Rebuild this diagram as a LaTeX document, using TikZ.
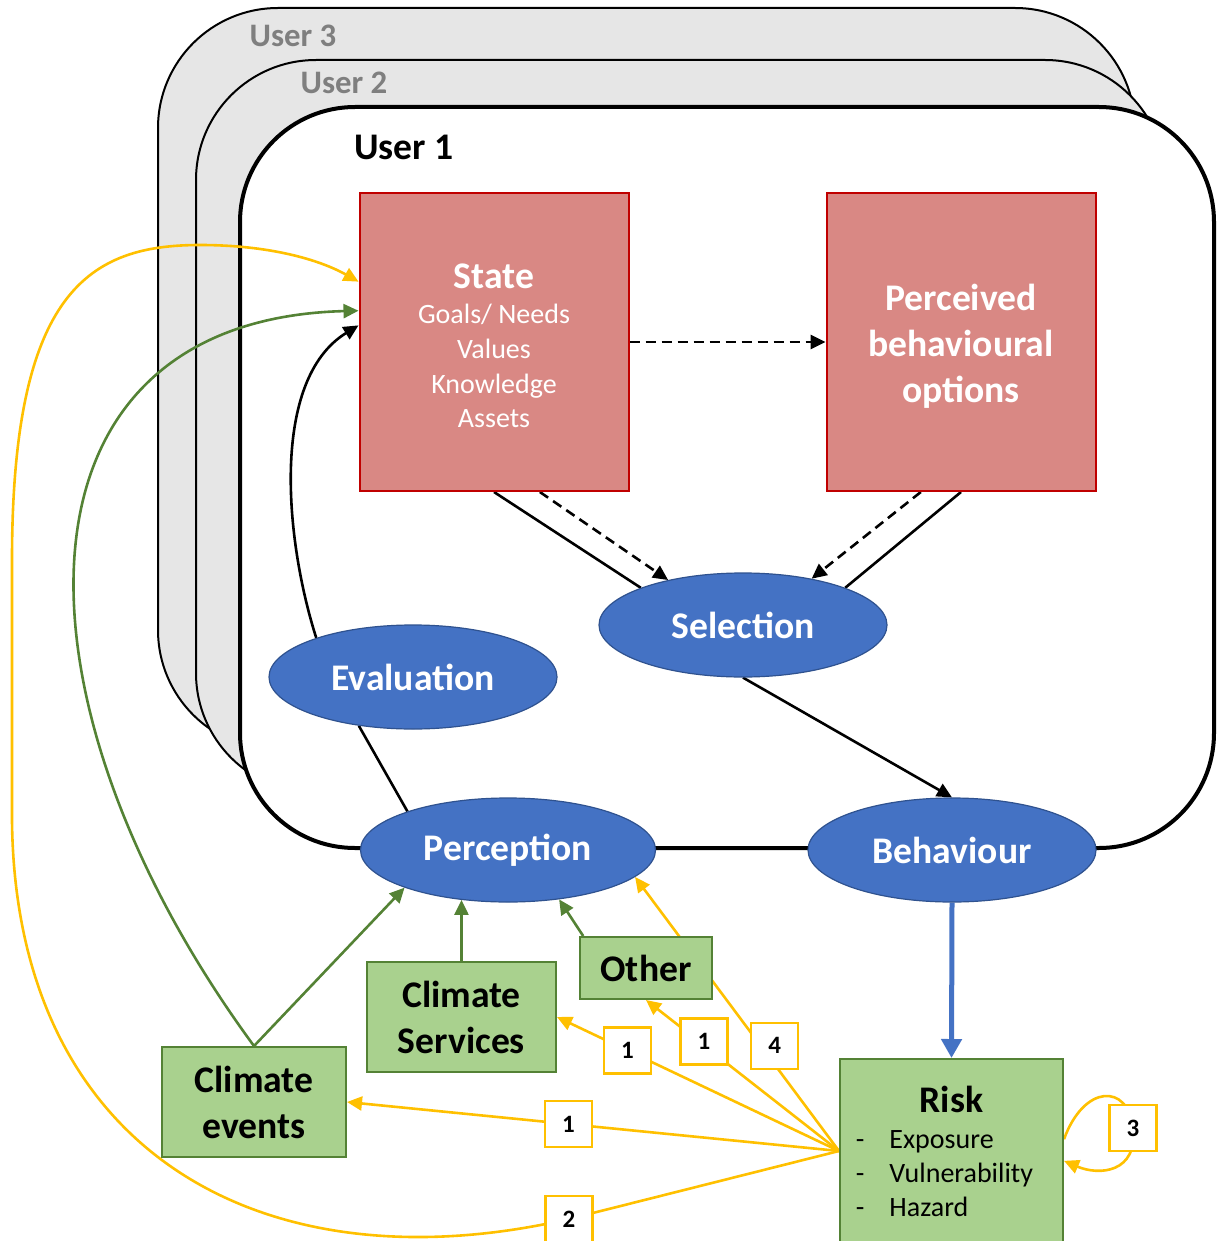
\documentclass[tikz,border=0pt]{standalone}
\usepackage{fontspec}
\setmainfont{Carlito}
\usetikzlibrary{positioning,arrows.meta,shapes.geometric,backgrounds}
\definecolor{uRed}{HTML}{D98884}
\definecolor{uRedLine}{HTML}{C00000}
\definecolor{uBlue}{HTML}{4472C4}
\definecolor{uBlueLine}{HTML}{2F528F}
\definecolor{uGreen}{HTML}{A9D18E}
\definecolor{uGreenLine}{HTML}{548235}
\definecolor{uYellow}{HTML}{FFC000}
\definecolor{uGrey}{HTML}{E6E6E6}
\definecolor{uGreyText}{HTML}{7F7F7F}
\pgfdeclarelayer{edges}
\pgfsetlayers{background,edges,main}
\tikzset{
  titlefont/.style={font=\bfseries\fontsize{18.8}{23}\selectfont},
  itemfont/.style={font=\fontsize{14}{17.3}\selectfont},
  user/.style={draw, rounded corners=60pt, line width=1pt, fill=uGrey},
  ulbl/.style={titlefont, inner sep=0pt},
  mind/.style={draw=uRedLine, fill=uRed, line width=1pt, text=white,
               align=center, itemfont, minimum width=134.5pt,
               minimum height=149pt, inner sep=0pt},
  act/.style={ellipse, draw=uBlueLine, fill=uBlue, line width=0.6pt,
              text=white, titlefont, minimum width=144pt,
              minimum height=52pt, inner sep=0pt},
  env/.style={draw=uGreenLine, fill=uGreen, line width=1pt, align=center,
              titlefont, inner sep=0pt},
  numbox/.style={draw=uYellow, fill=white, line width=1.2pt,
                 minimum width=23.5pt, minimum height=23pt, inner sep=0pt,
                 font=\bfseries\fontsize{12.5}{14}\selectfont},
  link/.style={line width=1.3pt},
  flow/.style={-{Triangle[length=7.5pt, width=7pt]}, line width=1.3pt},
  dflow/.style={flow, dash pattern=on 5pt off 3pt},
  gflow/.style={flow, draw=uGreenLine},
  yflow/.style={flow, draw=uYellow},
  bflow/.style={-{Triangle[length=9.5pt, width=10pt]}, line width=2.5pt,
                draw=uBlue},
}
\newcommand{\boxtitle}[1]{{\bfseries\fontsize{18.8}{23}\selectfont #1}}

\begin{document}
\begin{tikzpicture}[x=0.5pt, y=-0.5pt]
\useasboundingbox (0,0) rectangle (1217,1241);

%% ── the three user frames, back to front ─────────────────────────────────
\begin{scope}[on background layer]
  \draw[user] (158,8) rectangle (1135,750);
  \draw[user] (196,60) rectangle (1165,793);
  \draw[user, fill=white, line width=2pt, rounded corners=57.5pt]
    (240,107) rectangle (1214,848);
\end{scope}
\node[ulbl, text=uGreyText, font=\bfseries\fontsize{16.4}{20}\selectfont]
  (u3) at (293,36) {User 3};
\node[ulbl, text=uGreyText, font=\bfseries\fontsize{16.4}{20}\selectfont]
  (u2) at (344,83) {User 2};
\node[ulbl] (u1) at (404,147) {User 1};

%% ── inside User 1 ────────────────────────────────────────────────────────
\node[mind] (state) at (494,342)
  {\rule{0pt}{16pt}\boxtitle{State}\\[0.5pt] Goals/ Needs\\ Values\\ Knowledge\\ Assets};
\node[mind, titlefont] (pbo) at (961,342)
  {\rule{0pt}{17.2pt}Perceived\\ behavioural\\ options};
\node[act] (sel)  at (743,625) {Selection};
\node[act] (eval) at (413,677) {Evaluation};
\node[act, minimum width=147.5pt] (perc) at (508,850) {Perception};
\node[act] (beh)  at (952,850) {Behaviour};

%% ── the world outside ────────────────────────────────────────────────────
\node[env, minimum width=92pt, minimum height=55pt] (ce) at (254,1102)
  {Climate\\ events};
\node[env, minimum width=94.5pt, minimum height=55pt] (cs) at (461.5,1017)
  {Climate\\ Services};
\node[env, minimum width=66pt, minimum height=31pt] (other) at (646,968)
  {Other};
\node[env, minimum width=111.5pt, minimum height=92pt] (risk) at (951.5,1151)
  {\rule{0pt}{19pt}\boxtitle{Risk}\\[-5pt]{\mdseries\fontsize{14}{17}\selectfont
   \hspace*{-7pt}\begin{tabular}[t]{@{}l@{\hspace{12.5pt}}l@{}}
   -&Exposure\\ -&Vulnerability\\ -&Hazard
   \end{tabular}}};

\begin{pgfonlayer}{edges}
%% ── decision loop ────────────────────────────────────────────────────────
\draw[dflow] (state.east) -- (pbo.west);
\draw[link]  (state.south) -- (sel.160);
\draw[dflow] (state.287) -- (sel.149);
\draw[link]  (pbo.south) -- (sel.20);
\draw[dflow] (pbo.255) -- (sel.34);
\draw[flow]  (sel.south) -- (beh.north);
\draw[link]  (perc.159) -- (eval.222);
\draw[flow]  (eval.158) .. controls (285,540) and (270,380) .. (state.173);
\draw[bflow] (beh.south) -- (risk.north);

%% ── green: what is perceived ─────────────────────────────────────────────
\draw[gflow] (ce.north) -- (perc.200);
\draw[gflow] (cs.north) -- (perc.227);
\draw[gflow] (other.153) -- (perc.316);
\draw[gflow] (ce.north) .. controls (0,700) and (0,320) .. (state.167);

%% ── yellow: what risk feeds back, numbered ───────────────────────────────
\coordinate (hub) at (risk.west);
\draw[yflow] (hub) -- node[numbox, pos=0.55] (n1ce) {1} (ce.east);
\draw[yflow] (hub) -- node[numbox, pos=0.75] (n1cs) {1} (cs.east);
\draw[yflow] (hub) -- node[numbox, pos=0.70, yshift=2pt] (n1ot) {1} (other.south);
\draw[yflow] (hub) -- node[numbox, pos=0.34, xshift=2.5pt, yshift=6pt] (n4) {4}
  (perc.348);
\draw[yflow] (hub) -- (569,1219) node[numbox] (n2) {2}
  .. controls (260,1290) and (15,1150) .. (12,820) -- (12,560)
  .. controls (12,290) and (90,245) .. (200,245)
  .. controls (270,245) and (320,260) .. (state.156);
\draw[yflow] (risk.6) .. controls +(20,-55) and +(-5,-45) .. (1133,1128)
  node[numbox] (n3) {3} .. controls +(5,45) and +(35,15) .. (risk.355);
\end{pgfonlayer}

\end{tikzpicture}
\end{document}
